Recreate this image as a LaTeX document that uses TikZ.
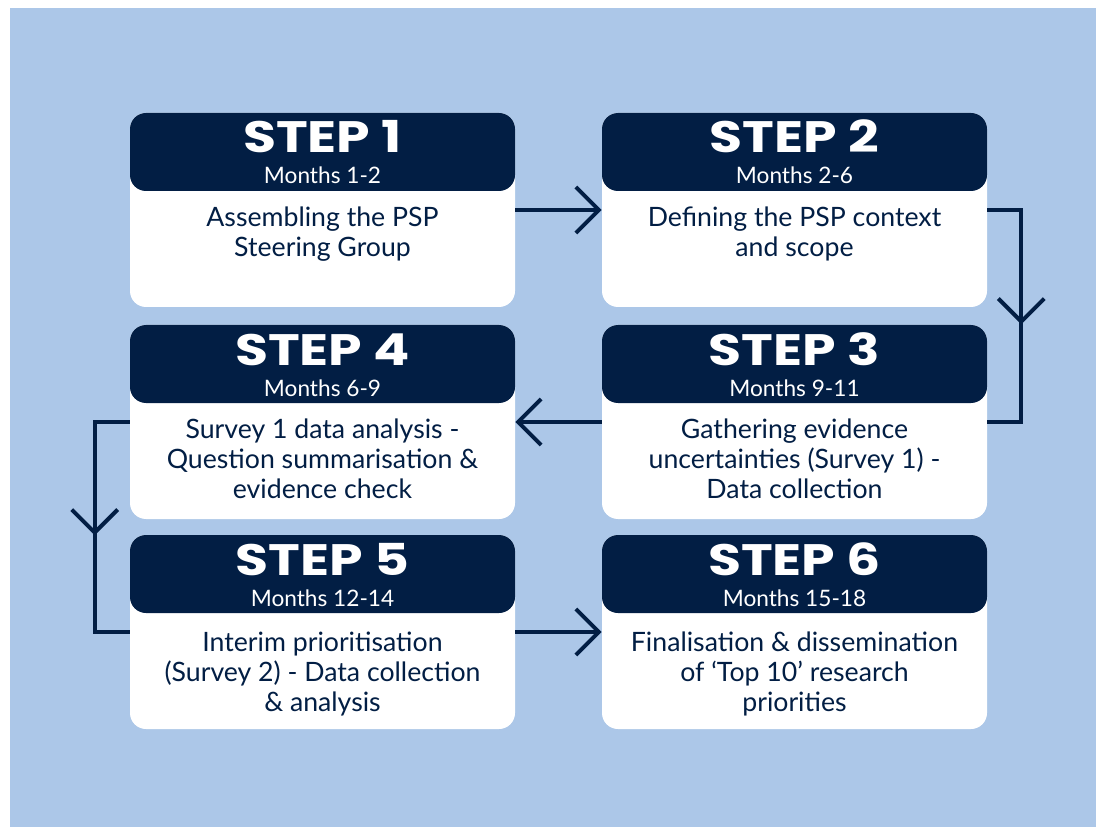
\documentclass[tikz,border=0pt]{standalone}
\usepackage{fontspec}
\setmainfont{Lato}
\newfontfamily\stepfont{Poppins}[FakeStretch=1.22]
\usetikzlibrary{arrows.meta,decorations.markings}
\definecolor{navy}{RGB}{2,30,68}
\definecolor{bgblue}{RGB}{172,199,232}
\tikzset{
  x=0.75pt, y=-0.75pt,
  bodybox/.style={fill=white, rounded corners=12pt, minimum width=288.75pt, minimum height=145.5pt, inner sep=0pt},
  headbox/.style={fill=navy, rounded corners=12pt, minimum width=288.75pt, minimum height=58.5pt, inner sep=0pt},
  steptitle/.style={text=white, anchor=base, inner sep=0pt, text depth=0pt, font=\stepfont\bfseries\fontsize{33}{33}\selectfont},
  months/.style={text=white, anchor=base, inner sep=0pt, text height=11pt, font=\fontsize{17}{18}\selectfont},
  desc/.style={text=navy, anchor=base, inner sep=0pt, align=center, font=\fontsize{20}{22.5}\selectfont},
  conn/.style={draw=navy, line width=3pt},
  chev/.style={-{Straight Barb[length=17.25pt, width=34.5pt]}},
  midchev/.style={postaction={decorate}, decoration={markings, mark=at position #1 with {\arrow{Straight Barb[length=17.25pt, width=34.5pt]}}}}
}
\begin{document}
\begin{tikzpicture}
\useasboundingbox (0,0) rectangle (1096,827);
\fill[bgblue] (10,8) rectangle (1096,827);

% Step 1
\node[bodybox] (b1) at (322.5,210) {};
\node[headbox] (h1) at (322.5,152) {};
\node[steptitle] (t1) at (322.5,153) {STEP 1};
\node[months] (m1) at (322.5,183.5) {Months 1-2};
\node[desc] (d1) at (322.5,257) {Assembling the PSP\\Steering Group};

% Step 2
\node[bodybox] (b2) at (794.5,210) {};
\node[headbox] (h2) at (794.5,152) {};
\node[steptitle] (t2) at (794.5,153) {STEP 2};
\node[months] (m2) at (794.5,183.5) {Months 2-6};
\node[desc] (d2) at (794.5,257) {Defining the PSP context\\and scope};

% Step 3
\node[bodybox] (b3) at (794.5,422) {};
\node[headbox] (h3) at (794.5,364) {};
\node[steptitle] (t3) at (794.5,365) {STEP 3};
\node[months] (m3) at (794.5,396) {Months 9-11};
\node[desc] (d3) at (794.5,498) {Gathering evidence\\uncertainties (Survey 1) -\\Data collection};

% Step 4
\node[bodybox] (b4) at (322.5,422) {};
\node[headbox] (h4) at (322.5,364) {};
\node[steptitle] (t4) at (322.5,365) {STEP 4};
\node[months] (m4) at (322.5,396) {Months 6-9};
\node[desc] (d4) at (322.5,498) {Survey 1 data analysis -\\Question summarisation \&\\evidence check};

% Step 5
\node[bodybox] (b5) at (322.5,632) {};
\node[headbox] (h5) at (322.5,574) {};
\node[steptitle] (t5) at (322.5,575) {STEP 5};
\node[months] (m5) at (322.5,606) {Months 12-14};
\node[desc] (d5) at (322.5,711) {Interim prioritisation\\(Survey 2) - Data collection\\\& analysis};

% Step 6
\node[bodybox] (b6) at (794.5,632) {};
\node[headbox] (h6) at (794.5,574) {};
\node[steptitle] (t6) at (794.5,575) {STEP 6};
\node[months] (m6) at (794.5,606) {Months 15-18};
\node[desc] (d6) at (794.5,711) {Finalisation \& dissemination\\of ‘Top 10’ research\\priorities};

% Connectors
\draw[conn, chev] (b1.east) -- (b2.west);
\draw[conn, midchev=0.53] (b2.east) -- ++(34,0) |- (b3.east);
\draw[conn, chev] (b3.west) -- (b4.east);
\draw[conn, midchev=0.53] (b4.west) -- ++(-35,0) |- (b5.west);
\draw[conn, chev] (b5.east) -- (b6.west);
\end{tikzpicture}
\end{document}
